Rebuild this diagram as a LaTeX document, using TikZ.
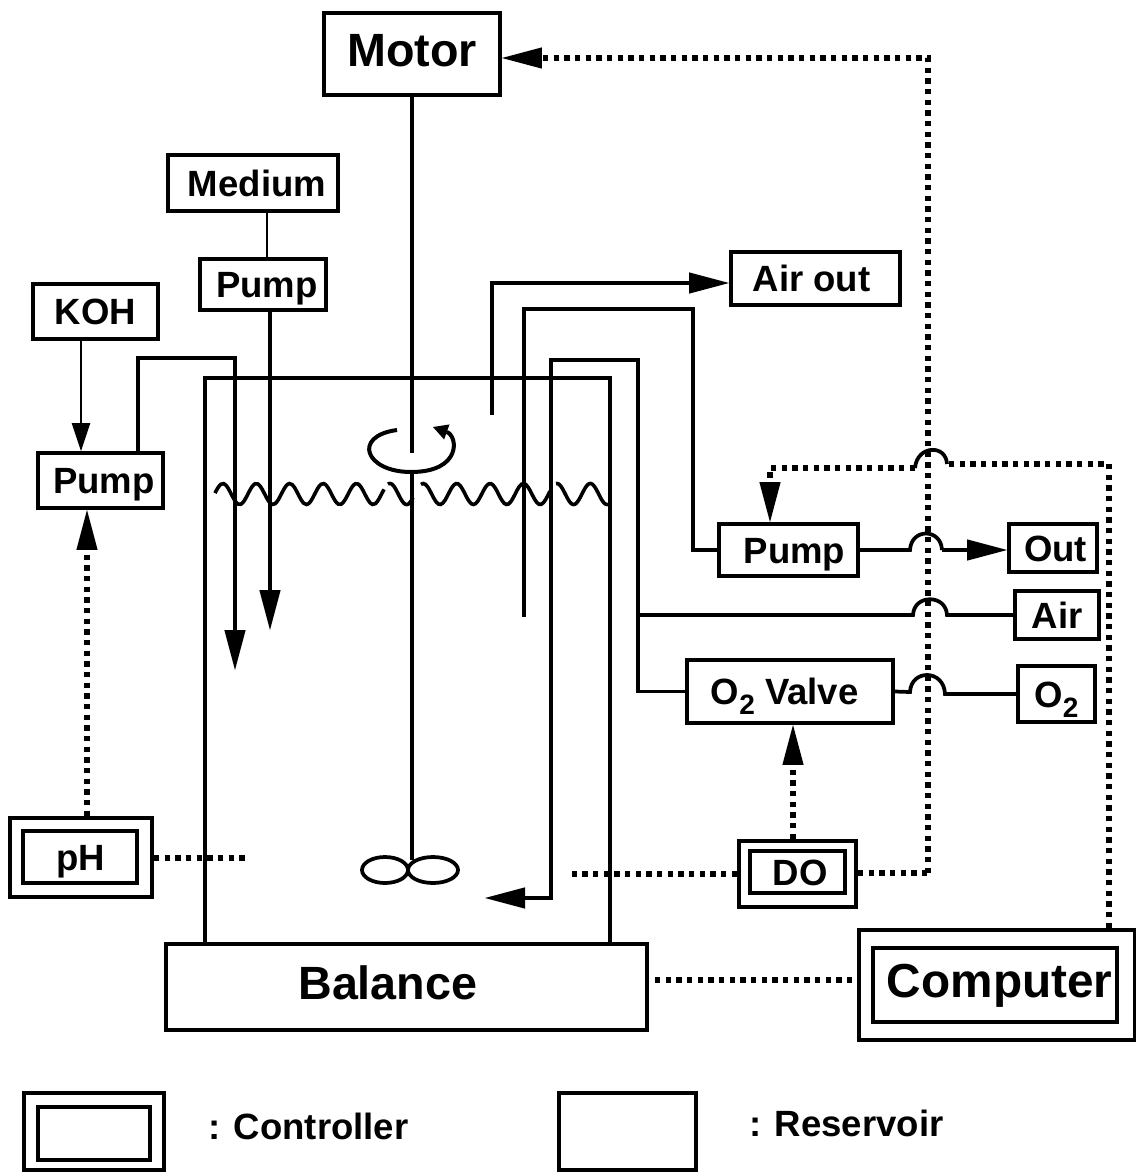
\documentclass[tikz,border=0pt]{standalone}
\usepackage{fontspec}
\setmainfont{Liberation Sans}
\usetikzlibrary{arrows.meta}
\newcommand{\smf}{\fontsize{27.4}{30}\selectfont\bfseries}
\newcommand{\bigf}{\fontsize{35}{38}\selectfont\bfseries}
\newcommand{\subtwo}{\raisebox{-7.5pt}{\fontsize{21}{21}\selectfont 2}}
\tikzset{
  boxst/.style={draw,line width=2.9pt,inner sep=0pt,font=\smf,text height=19.6pt,text depth=0pt,align=center},
  bigbox/.style={font=\bigf,text height=25pt,text depth=6pt},
  ln/.style={line width=2.8pt,line join=miter},
  thinln/.style={line width=2.2pt},
  dot/.style={line width=3.8pt,dash pattern=on 4pt off 4pt},
  hd/.style={-{Triangle[length=30pt,width=16pt,line width=0pt]}},
  thinhd/.style={-{Triangle[length=21pt,width=14pt,line width=0pt]}},
  lab/.style={inner sep=0pt,font=\smf,anchor=base west}
}
\newcommand{\bx}[7][]{%
  \pgfmathsetmacro\cxx{(#3+#5)/2}\pgfmathsetmacro\cyy{(#4+#6)/2}%
  \pgfmathsetmacro\bww{(#5-#3)*0.75}\pgfmathsetmacro\bhh{(#6-#4)*0.75}%
  \node[boxst,minimum width=\bww pt,minimum height=\bhh pt,#1] (#2) at (\cxx,\cyy) {#7};}
\begin{document}
\begin{tikzpicture}[x=0.75pt,y=-0.75pt]
\useasboundingbox (0,0) rectangle (1136,1172);
% boxes
\bx[bigbox]{motor}{324}{13}{500}{95}{Motor}
\bx{medium}{168}{155}{338}{211}{\hspace*{6pt}Medium}
\bx{pumpA}{200}{259}{326}{310}{\hspace*{6pt}Pump}
\bx{koh}{33}{284}{158}{339}{KOH}
\bx{pumpB}{38}{453}{163}{508}{\hspace*{5pt}Pump}
\bx{airout}{731}{252}{900}{305}{\hspace*{-6pt}Air out}
\bx{pumpC}{719}{524}{858}{576}{\hspace*{9pt}Pump}
\bx{out}{1009}{524}{1097}{572}{\hspace*{4pt}Out}
\bx{air}{1015}{591}{1099}{639}{Air}
\bx{otwo}{1018}{666}{1095}{722}{O\subtwo}
\bx{valve}{687}{660}{893}{723}{\hspace*{-8pt}O\subtwo\ Valve}
\bx{phout}{10}{818}{152}{897}{}
\bx{ph}{23}{831}{137}{883}{\hspace*{1pt}pH}
\bx{doout}{739}{841}{856}{907}{}
\bx{do}{750}{851}{845}{893}{\hspace*{4pt}DO}
\bx[bigbox]{balance}{166}{944}{647}{1030}{\hspace*{-28pt}Balance}
\bx{compout}{859}{930}{1135}{1040}{}
\bx[bigbox,font=\fontsize{35.8}{38}\selectfont\bfseries]{comp}{873}{948}{1117}{1022}{\hspace*{7pt}Computer}
\bx{legc}{24}{1093}{164}{1170}{}
\bx{legci}{38}{1107}{150}{1160}{}
\bx{legr}{559}{1093}{696}{1170}{}
\node[lab] (legct) at (208,1139) {: Controller};
\node[lab] (legrt) at (749,1136) {: Reservoir};
% vessel
\coordinate (vtl) at (205,378); \coordinate (vtr) at (610,378);
\draw[ln] (balance.north -| vtl) -- (vtl) -- (vtr) -- (balance.north -| vtr);
% shaft, stirrer
\coordinate (shaftgap) at (413,453);
\coordinate (shaftlo) at (413,472);
\coordinate (shaftend) at (413,860);
\draw[ln] (motor.south) -- (motor.south |- shaftgap);
\draw[ln] (motor.south |- shaftlo) -- (motor.south |- shaftend);
\draw[ln] (385,870) ellipse[x radius=23,y radius=13];
\draw[ln] (433,870) ellipse[x radius=25,y radius=13];
\draw[line width=3pt,-{Triangle[length=11pt,width=12pt,line width=0pt]}] (397,430) .. controls (352,436) and (365,472) .. (411,472) .. controls (462,472) and (458,436) .. (433,427);
% liquid surface
\foreach \a/\b in {215/384,388/413,421/550,556/608}{
  \draw[line width=2.7pt] plot[domain=\a:\b,samples=60,smooth] (\x,{494+10.5*cos(10.778*(\x-440))});
}
% pipes
\coordinate (mp) at (267,235);
\draw[thinln] (pumpA.north -| mp) -- (medium.south -| mp);
\coordinate (pa) at (270,630);
\draw[ln,hd] (pumpA.south -| pa) -- (pa);
\coordinate (kp) at (81,400);
\draw[thinln,thinhd] (koh.south -| kp) -- (pumpB.north -| kp);
\coordinate (pb1) at (138,358); \coordinate (pb2) at (235,670);
\draw[ln,hd] (pumpB.north -| pb1) -- (pb1) -- (pb1 -| pb2) -- (pb2);
\coordinate (ao) at (492,415); \coordinate (aoc) at (492,283);
\draw[ln,hd] (ao) -- (aoc) -- (airout.west |- aoc);
\coordinate (s1) at (524,617); \coordinate (s2) at (524,309); \coordinate (s3) at (693,309);
\draw[ln] (s1) -- (s2) -- (s3) -- (s3 |- pumpC.west) -- (pumpC.west);
\coordinate (g1) at (485,898); \coordinate (g2) at (551,898); \coordinate (g3) at (551,360); \coordinate (g4) at (638,360);
\draw[ln,{Triangle[length=30pt,width=16pt,line width=0pt]}-] (g1) -- (g2) -- (g3) -- (g4) -- (g4 |- valve.west) -- (valve.west);
% outlet and gas lines with jumps
\coordinate (j1a) at (910,550); \coordinate (j1b) at (942,550);
\draw[ln] (pumpC.east) -- (j1a) .. controls +(1,-22) and +(-1,-22) .. (j1b);
\draw[ln,hd] (j1b) -- (out.west |- j1b);
\coordinate (j2a) at (913,615); \coordinate (j2b) at (947,615);
\draw[ln] (g4 |- j2a) -- (j2a) .. controls +(1,-21) and +(-1,-21) .. (j2b) -- (air.west);
\coordinate (j3a) at (910,692); \coordinate (j3b) at (945,694);
\draw[ln] (valve.east) -- (j3a) .. controls +(1,-23) and +(-1,-25) .. (j3b) -- (otwo.west);
% signal lines
\coordinate (sm) at (928,58); \coordinate (sb) at (928,873);
\draw[dot,hd] (sb) -- (sm) -- (motor.east |- sm);
\draw[dot] (doout.east |- sb) -- (sb);
\coordinate (c1) at (1109,464); \coordinate (c2) at (947,464);
\coordinate (c3) at (915,468); \coordinate (c4) at (770,468);
\draw[dot] (compout.north -| c1) -- (c1) -- (c2);
\draw[line width=2.8pt] (c3) .. controls +(2,-23) and +(-1,-20) .. (c2);
\draw[dot,hd] (c3) -- (c4) -- (pumpC.north -| c4);
\coordinate (dv) at (793,790);
\draw[dot,hd] (doout.north -| dv) -- (valve.south -| dv);
\coordinate (dl) at (570,874);
\draw[dot] (doout.west |- dl) -- (dl);
\coordinate (pr) at (245,858);
\draw[dot] (phout.east |- pr) -- (pr);
\coordinate (pu) at (87,650);
\draw[dot,hd] (phout.north -| pu) -- (pumpB.south -| pu);
\coordinate (bl) at (655,980);
\draw[dot] (bl) -- (compout.west |- bl);
\end{tikzpicture}
\end{document}
